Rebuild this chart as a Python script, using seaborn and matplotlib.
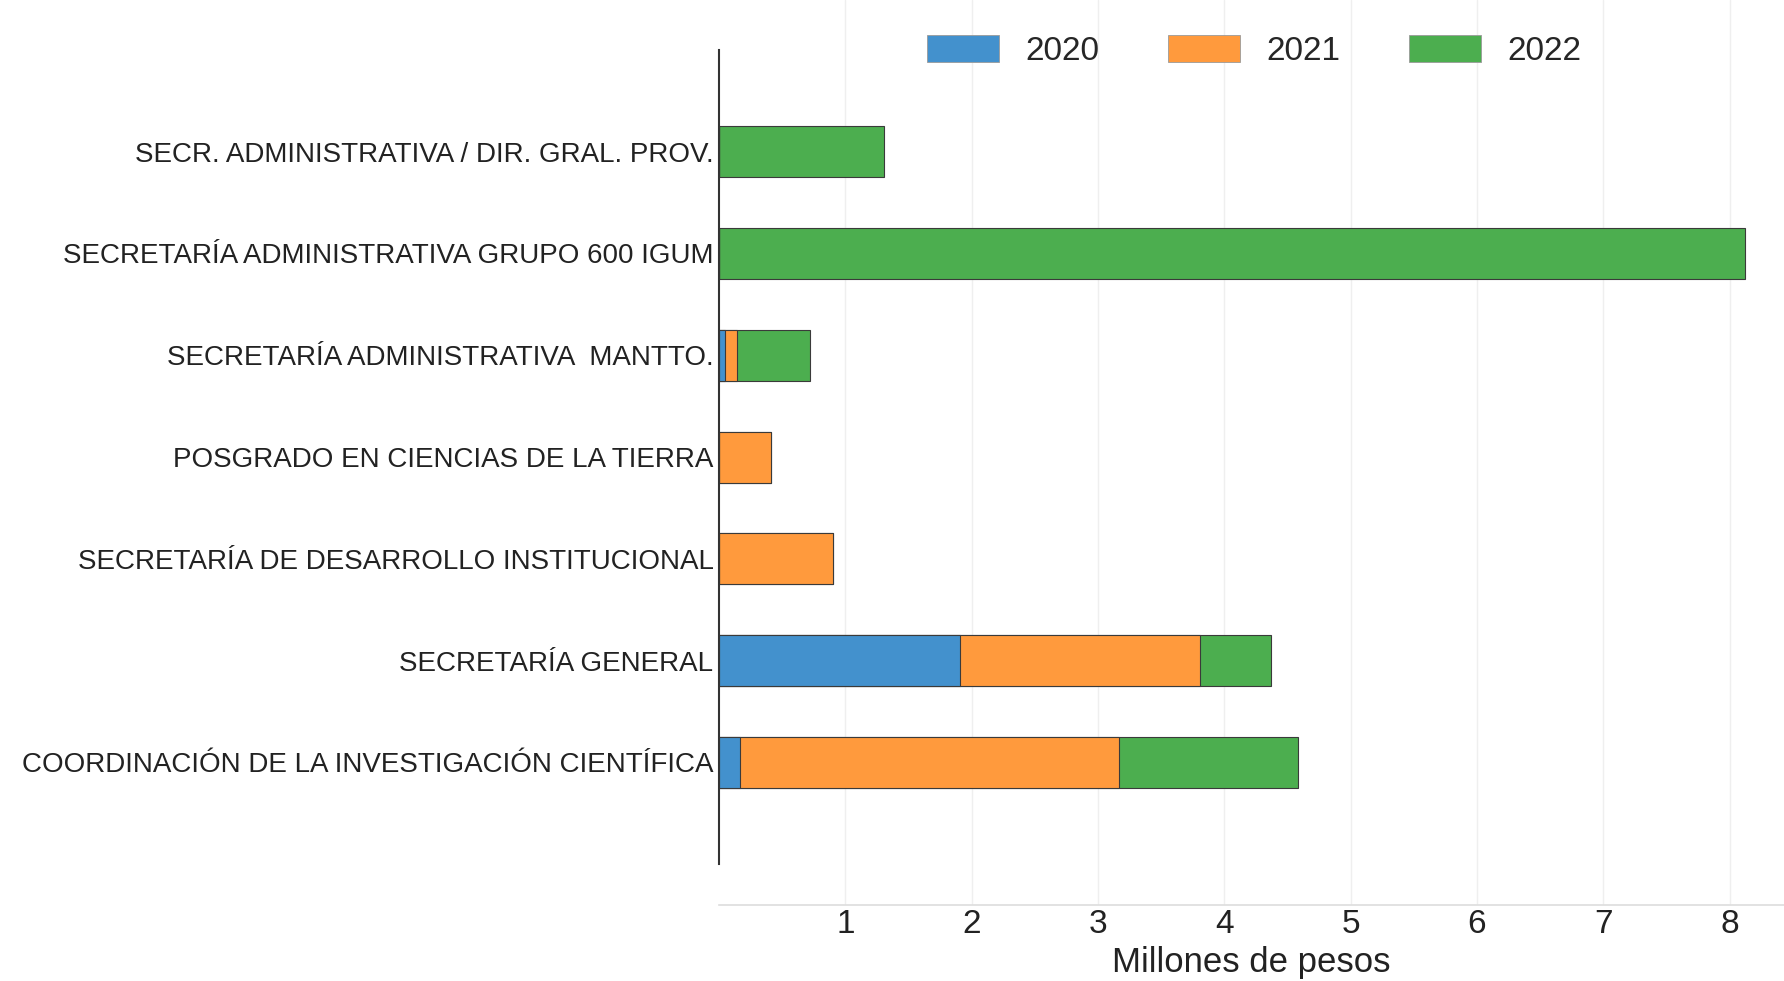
import numpy as np
import pandas as pd
import matplotlib
matplotlib.use("Agg")
import matplotlib.pyplot as plt
from matplotlib.patches import Patch
import seaborn as sns

# data (millions of pesos)
categories = ["SECR. ADMINISTRATIVA / DIR. GRAL. PROV.",
              "SECRETARÍA ADMINISTRATIVA GRUPO 600 IGUM",
              "SECRETARÍA ADMINISTRATIVA  MANTTO.",
              "POSGRADO EN CIENCIAS DE LA TIERRA",
              "SECRETARÍA DE DESARROLLO INSTITUCIONAL",
              "SECRETARÍA GENERAL",
              "COORDINACIÓN DE LA INVESTIGACIÓN CIENTÍFICA"]
years = ["2020", "2021", "2022"]
v2020 = [0, 0, 0.05, 0, 0, 1.91, 0.17]
v2021 = [0, 0, 0.09, 0.41, 0.90, 1.90, 3.00]
v2022 = [1.31, 8.12, 0.58, 0, 0, 0.56, 1.41]
x_ticks = [1, 2, 3, 4, 5, 6, 7, 8]

colors = ["#4391cd", "#ff9a3d", "#4cae4f"]

sns.set_style("white")
plt.rcParams['font.family'] = ['Liberation Sans', 'DejaVu Sans']

df = pd.DataFrame({"cat": categories, "y2020": v2020, "y2021": v2021, "y2022": v2022})
df["c2021"] = df["y2020"] + df["y2021"]
df["c2022"] = df["c2021"] + df["y2022"]

fig = plt.figure(figsize=(17.84, 9.81), dpi=100)
ax = fig.add_axes([0.403, 0.0775, 0.597, 0.9225])

# stacked bars drawn as overlaid cumulative totals
for col, c in zip(["c2022", "c2021", "y2020"], colors[::-1]):
    sns.barplot(data=df, x=col, y="cat", orient="h", color=c, width=0.5,
                edgecolor="#3a3a3a", linewidth=0.8, saturation=1, ax=ax)

ax.set_xlim(0, 8.43)
ax.set_ylim(7.40, -1.49)
ax.set_xticks(x_ticks)
ax.set_xticklabels([str(t) for t in x_ticks])
ax.grid(axis="x", color="#efefef", linewidth=1)
ax.set_axisbelow(True)

for s in ["top", "right"]:
    ax.spines[s].set_visible(False)
ax.spines["left"].set_bounds(-1, 7)
ax.spines["left"].set_color("#333333")
ax.spines["left"].set_linewidth(1.5)
ax.spines["bottom"].set_color("#dddddd")
ax.spines["bottom"].set_linewidth(1.2)

ax.tick_params(axis="y", length=0, pad=4, labelsize=20, labelcolor="#222222")
ax.tick_params(axis="x", length=0, pad=3, labelsize=24, labelcolor="#222222")
ax.set_ylabel("")
ax.set_xlabel("Millones de pesos", fontsize=25, color="#222222", labelpad=4)

handles = [Patch(facecolor=c, edgecolor="#9a9a9a", linewidth=0.6) for c in colors]
fig.legend(handles, years, loc="center", bbox_to_anchor=(0.703, 0.948), ncol=3,
           frameon=False, fontsize=24, handlelength=2.16, handleheight=0.85,
           handletextpad=0.78, columnspacing=2.07)

fig.savefig("out.png", dpi=100)
